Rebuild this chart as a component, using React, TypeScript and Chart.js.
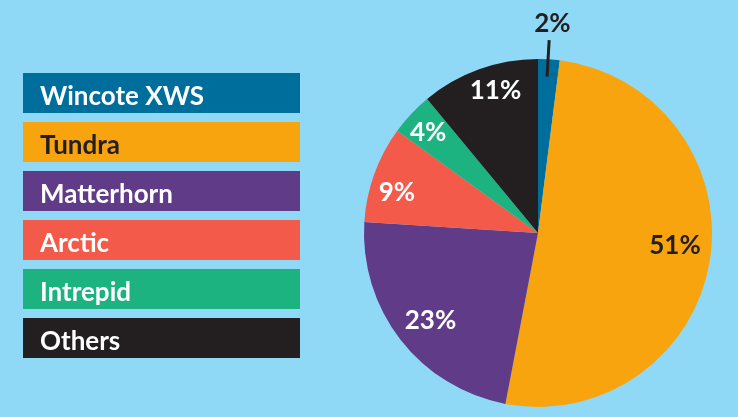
import React, { useEffect, useRef } from "react";
import { Chart, registerables } from "chart.js";

Chart.register(...registerables);

const categories = ["Wincote XWS", "Tundra", "Matterhorn", "Arctic", "Intrepid", "Others"];
const shares = [2, 51, 23, 9, 4, 11];
const colors = ["#006e9d", "#f7a40e", "#5f3b88", "#f35a49", "#1db380", "#231f20"];
const legendTextColors = ["#ffffff", "#231f20", "#ffffff", "#ffffff", "#ffffff", "#ffffff"];
const labelColors = ["#231f20", "#231f20", "#ffffff", "#ffffff", "#ffffff", "#ffffff"];
const labelRadius = [1.213, 0.79, 0.795, 0.844, 0.858, 0.86];
const labelAngleShiftDeg = [0.3, -4.2, -1.2, -3.6, -0.6, 3.3];

const FONT = "Lato, 'Open Sans', sans-serif";

const overlay = {
  id: "overlay",
  afterDraw(chart: any) {
    const ctx = chart.ctx as CanvasRenderingContext2D;
    ctx.save();
    // legend
    const x0 = 23, w = 277, h = 40, pitch = 49, y0 = 73;
    categories.forEach((c, i) => {
      const y = y0 + i * pitch;
      ctx.fillStyle = colors[i];
      ctx.fillRect(x0, y, w, h);
      ctx.fillStyle = legendTextColors[i];
      ctx.font = `bold 26px ${FONT}`;
      ctx.textBaseline = "alphabetic";
      ctx.textAlign = "left";
      ctx.fillText(c, 40, y + 31.5);
    });
    // pie labels
    const meta = chart.getDatasetMeta(0);
    meta.data.forEach((arc: any, i: number) => {
      const { x, y, startAngle, endAngle, outerRadius } = arc.getProps(
        ["x", "y", "startAngle", "endAngle", "outerRadius"],
        true
      );
      const mid = (startAngle + endAngle) / 2;
      const a = mid + (labelAngleShiftDeg[i] * Math.PI) / 180;
      const r = outerRadius * labelRadius[i];
      const lx = x + Math.cos(a) * r;
      const ly = y + Math.sin(a) * r;
      if (labelRadius[i] > 1) {
        ctx.strokeStyle = "#231f20";
        ctx.lineWidth = 3;
        ctx.beginPath();
        const la = mid - 0.005;
        ctx.moveTo(x + Math.cos(la) * outerRadius * 0.9, y + Math.sin(la) * outerRadius * 0.9);
        ctx.lineTo(x + Math.cos(la) * outerRadius * 1.11, y + Math.sin(la) * outerRadius * 1.11);
        ctx.stroke();
      }
      ctx.fillStyle = labelColors[i];
      ctx.font = `bold 26px ${FONT}`;
      ctx.textAlign = "center";
      ctx.textBaseline = "alphabetic";
      ctx.fillText(shares[i] + "%", lx, ly + 9.4);
    });
    ctx.restore();
  },
};

export default function App() {
  const ref = useRef<HTMLCanvasElement | null>(null);
  useEffect(() => {
    if (!ref.current) return;
    const chart = new Chart(ref.current, {
      type: "pie",
      data: {
        labels: categories,
        datasets: [
          {
            data: shares,
            backgroundColor: colors,
            borderWidth: 0,
          },
        ],
      },
      options: {
        animation: false,
        responsive: false,
        layout: { padding: { left: 364, right: 26, top: 59, bottom: 10 } },
        plugins: { legend: { display: false }, tooltip: { enabled: false } },
      },
      plugins: [overlay],
    });
    return () => chart.destroy();
  }, []);
  return (
    <div
      style={{
        position: "fixed",
        left: 0,
        top: 0,
        width: 738,
        height: 417,
        background: "#8fd9f6",
      }}
    >
      <canvas ref={ref} width={738} height={417} style={{ width: 738, height: 417, display: "block" }} />
    </div>
  );
}
